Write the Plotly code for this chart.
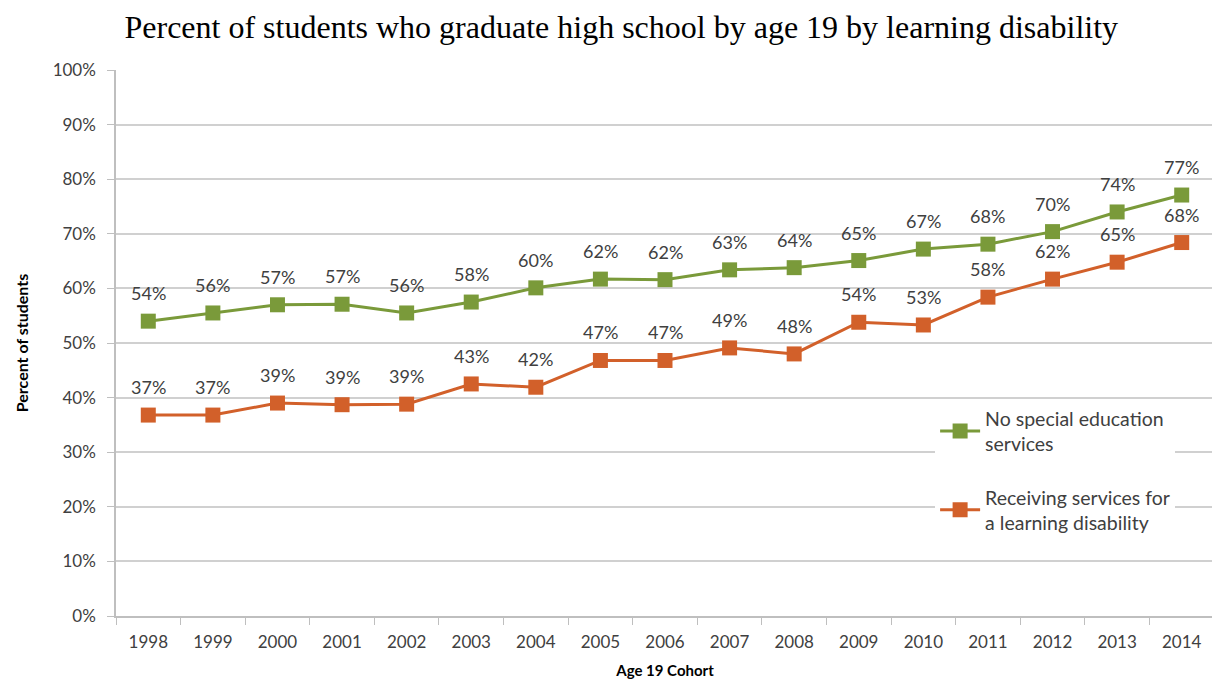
import plotly.graph_objects as go

years = [str(y) for y in range(1998, 2015)]
no_sped = [54.0, 55.5, 57.0, 57.1, 55.5, 57.5, 60.1, 61.7, 61.6, 63.4, 63.8, 65.1, 67.2, 68.1, 70.4, 74.0, 77.1]
ld = [36.8, 36.8, 39.0, 38.7, 38.8, 42.5, 41.9, 46.8, 46.8, 49.1, 48.0, 53.8, 53.3, 58.4, 61.7, 64.8, 68.4]
no_sped_labels = ["54%", "56%", "57%", "57%", "56%", "58%", "60%", "62%", "62%", "63%", "64%", "65%", "67%", "68%", "70%", "74%", "77%"]
ld_labels = ["37%", "37%", "39%", "39%", "39%", "43%", "42%", "47%", "47%", "49%", "48%", "54%", "53%", "58%", "62%", "65%", "68%"]

green = "#7A9A3A"
orange = "#D2602A"
font_fam = "Lato, 'Open Sans', sans-serif"
txt = "#404040"

fig = go.Figure()
fig.add_trace(go.Scatter(
    x=years, y=no_sped, mode="lines+markers",
    name="No special education<br>services", legendgroup="a",
    line=dict(color=green, width=3),
    marker=dict(symbol="square", size=15, color=green),
))
fig.add_trace(go.Scatter(
    x=years, y=ld, mode="lines+markers",
    name="Receiving services for<br>a learning disability", legendgroup="b",
    line=dict(color=orange, width=3),
    marker=dict(symbol="square", size=15, color=orange),
))

# data labels, placed on the category axis by category index
for ys, labs in [(no_sped, no_sped_labels), (ld, ld_labels)]:
    for i, (yv, lab) in enumerate(zip(ys, labs)):
        fig.add_annotation(x=i, y=yv, xref="x", yref="y", text=lab, showarrow=False, yshift=28,
                           font=dict(family=font_fam, size=18, color=txt))

fig.update_layout(
    width=1212, height=673,
    paper_bgcolor="white", plot_bgcolor="white",
    margin=dict(l=108, r=6, t=62, b=65),
    title=dict(text="Percent of students who graduate high school by age 19 by learning disability",
               x=0.506, xanchor="center", y=0.972, yanchor="middle",
               font=dict(family="'Liberation Serif', 'Times New Roman', serif", size=32, color="black")),
    font=dict(family=font_fam, size=17, color=txt),
    legend=dict(x=0.746, y=0.397, xanchor="left", yanchor="top",
                bgcolor="white", font=dict(size=19.5, color=txt),
                tracegroupgap=25, itemwidth=40,
                borderwidth=0),
    showlegend=True,
)
fig.update_xaxes(
    type="category", categoryorder="array", categoryarray=years,
    range=[-0.5, len(years) - 0.5], automargin=False,
    tickson="boundaries", ticks="outside", ticklen=7, tickcolor="#BFBFBF",
    showline=True, linecolor="#BFBFBF", linewidth=1.5, showgrid=False,
    tickangle=0, tickfont=dict(size=17, color=txt), ticklabelstandoff=10,
    title=dict(text="<b>Age 19 Cohort</b>", font=dict(size=15, color="black"), standoff=14),
)
fig.update_yaxes(
    range=[0, 100], dtick=10, ticksuffix="%", ticks="outside", ticklen=7, tickcolor="#BFBFBF",
    showline=True, linecolor="#BFBFBF", linewidth=1.5, automargin=False,
    showgrid=True, gridcolor="#D0D0D0", gridwidth=1.5, zeroline=False,
    tickfont=dict(size=17, color=txt), ticklabelstandoff=8,
    title=dict(text="<b>Percent of students</b>", font=dict(size=16, color="black"), standoff=20),
)

fig.write_html("out.html")
